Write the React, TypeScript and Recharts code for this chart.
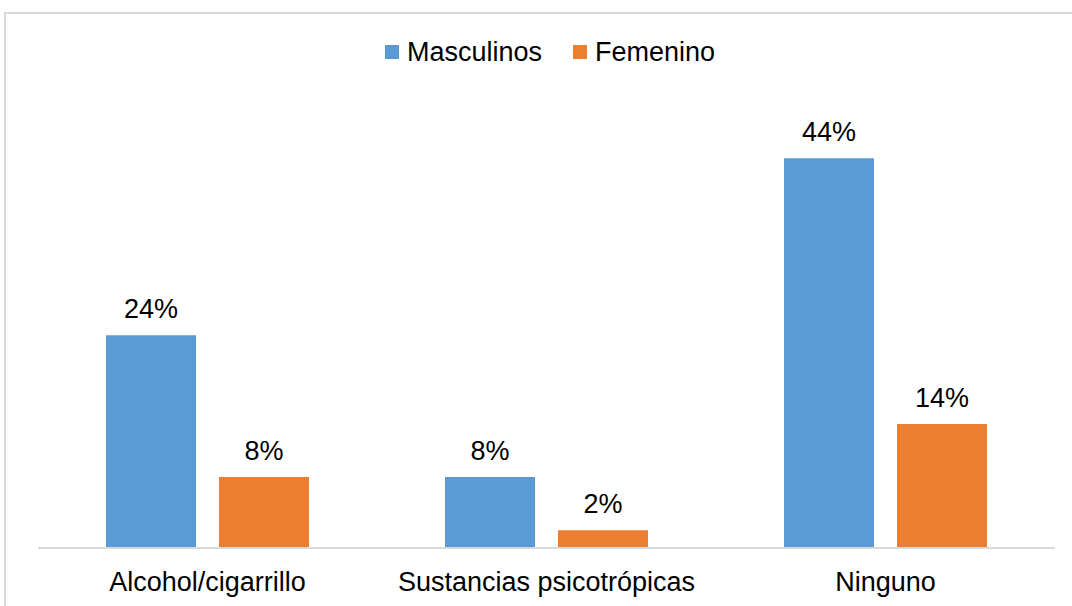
import { BarChart, Bar, XAxis, YAxis, Legend, LabelList } from 'recharts';

const categories = ['Alcohol/cigarrillo', 'Sustancias psicotrópicas', 'Ninguno'];
const masculinos = [24, 8, 44];
const femenino = [8, 2, 14];
const seriesNames = ['Masculinos', 'Femenino'];

const BLUE = '#5B9BD5';
const ORANGE = '#ED7D31';
const FONT = 'Arial, "Liberation Sans", sans-serif';
const FS = 27;

const data = categories.map((name, i) => ({
  name,
  masculinos: masculinos[i],
  femenino: femenino[i],
}));

const pct = (v: any) => `${v}%`;

const renderLegend = () => {
  const colors = [BLUE, ORANGE];
  return (
    <div style={{ display: 'flex', height: 30, alignItems: 'center' }}>
      {seriesNames.map((s, i) => (
        <div
          key={s}
          style={{ display: 'flex', alignItems: 'center', marginRight: i === 0 ? 31 : 0 }}
        >
          <span style={{ width: 14, height: 14, background: colors[i], marginRight: 8 }} />
          <span style={{ fontFamily: FONT, fontSize: FS, lineHeight: '30px', color: '#000' }}>{s}</span>
        </div>
      ))}
    </div>
  );
};

export default function App() {
  return (
    <div style={{ position: 'absolute', left: 0, top: 0, width: 1072, height: 606, overflow: 'hidden', background: '#fff' }}>
      <div
        style={{
          position: 'absolute',
          left: 4,
          top: 12,
          width: 1200,
          height: 700,
          borderTop: '2px solid #d9d9d9',
          borderLeft: '2px solid #d9d9d9',
        }}
      />
      <div style={{ position: 'absolute', left: 0, top: 0 }}>
        <BarChart
          width={1072}
          height={606}
          data={data}
          margin={{ top: 75, right: 17, bottom: 0, left: 38 }}
          barSize={90}
          barGap={23}
        >
          <XAxis
            dataKey="name"
            height={58}
            axisLine={{ stroke: '#d9d9d9', strokeWidth: 2 }}
            tickLine={false}
            tickMargin={18}
            tick={{ fontFamily: FONT, fontSize: FS, fill: '#000' }}
          />
          <YAxis hide domain={[0, 50]} />
          <Legend
            verticalAlign="top"
            content={renderLegend}
            wrapperStyle={{ top: 37, left: 385, width: 'auto' }}
          />
          <Bar dataKey="masculinos" name="Masculinos" fill={BLUE} isAnimationActive={false}>
            <LabelList
              dataKey="masculinos"
              position="top"
              offset={17}
              formatter={pct}
              style={{ fontFamily: FONT, fontSize: FS, fill: '#000' }}
            />
          </Bar>
          <Bar dataKey="femenino" name="Femenino" fill={ORANGE} isAnimationActive={false}>
            <LabelList
              dataKey="femenino"
              position="top"
              offset={17}
              formatter={pct}
              style={{ fontFamily: FONT, fontSize: FS, fill: '#000' }}
            />
          </Bar>
        </BarChart>
      </div>
    </div>
  );
}
